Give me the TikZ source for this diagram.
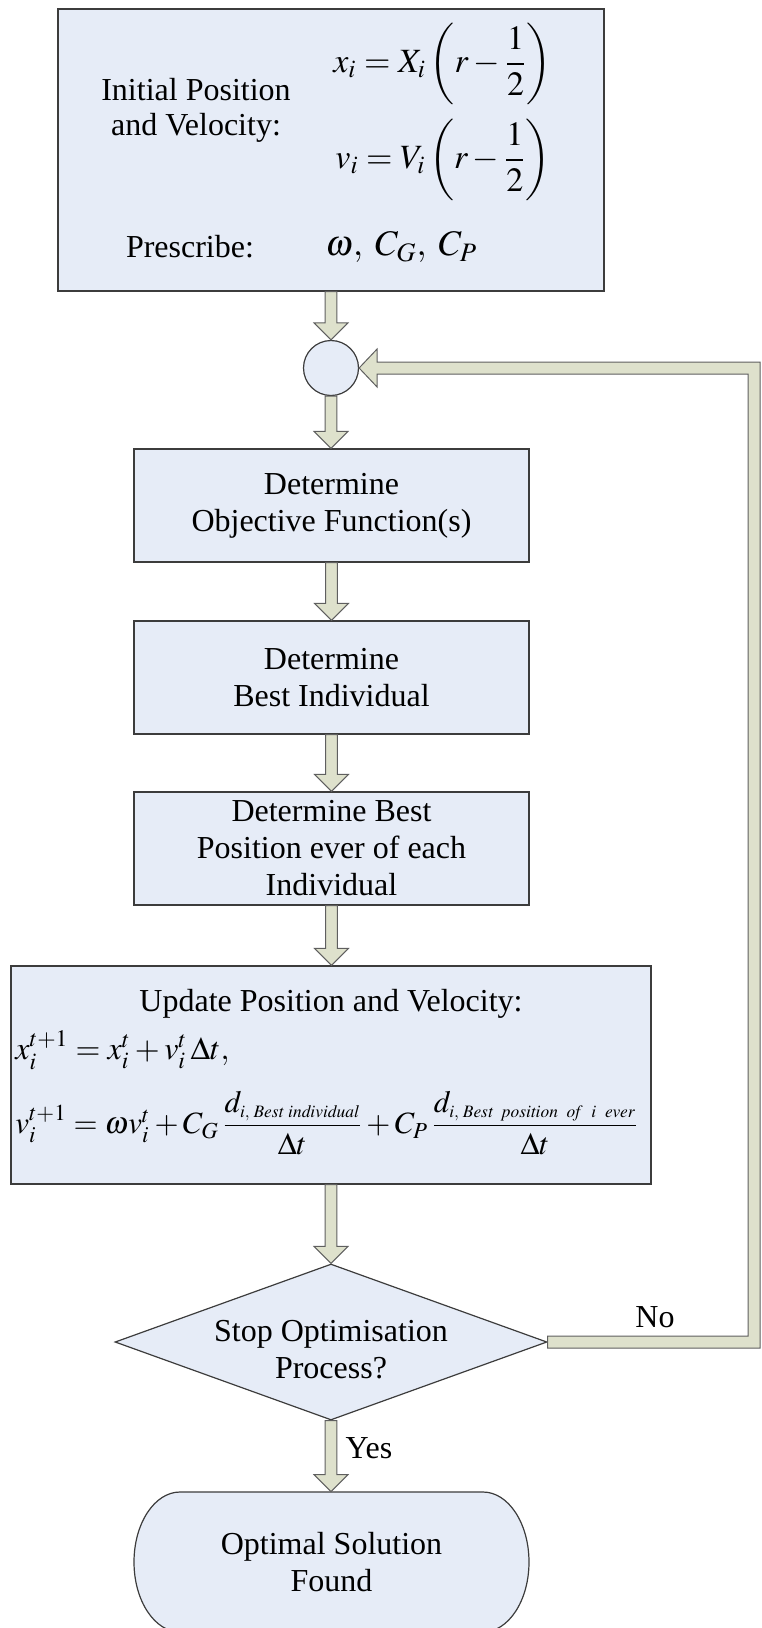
\documentclass[tikz,border=0pt]{standalone}
\usepackage{amsmath}
\usepackage{mathptmx}
\usepackage{graphicx}
\usepackage{fontspec}
\setmainfont{Liberation Serif}
\usetikzlibrary{shapes.geometric,calc}
\definecolor{boxfill}{RGB}{230,236,247}
\definecolor{arrfill}{RGB}{222,225,204}
\definecolor{boxline}{RGB}{60,60,60}
\definecolor{arrline}{RGB}{95,95,95}
\newcommand\subtxt[1]{\mbox{\fontsize{9pt}{10pt}\selectfont$\mathit{#1}$}}
\tikzset{
  base/.style={draw=boxline, fill=boxfill, line width=0.6pt},
  txt/.style={font=\fontsize{16pt}{18.5pt}\selectfont, align=center, inner sep=0pt},
  procbox/.style={base, txt, rectangle, minimum width=197.5pt, minimum height=56.5pt},
  barrow/.style={draw=arrline, fill=arrfill, line width=0.5pt, line join=miter},
}
\newcommand\varr[2]{%
  \draw[barrow] let \p1=(#1), \p2=(#2) in
  (\x1-2.9pt,\y1) -- (\x1+2.9pt,\y1) -- (\x1+2.9pt,\y2+8.5pt) -- (\x1+8.5pt,\y2+8.5pt)
  -- (\x1,\y2) -- (\x1-8.5pt,\y2+8.5pt) -- (\x1-2.9pt,\y2+8.5pt) -- cycle;}
\begin{document}
\begin{tikzpicture}[x=0.5pt,y=-0.5pt]
\useasboundingbox (0,0) rectangle (761,1628);
% top box
\node[base, minimum width=273pt, minimum height=141pt, inner sep=0pt] (init) at (331,150) {};
\node[txt, font=\fontsize{16pt}{17.5pt}\selectfont] (initxt) at (196,110) {Initial Position\\and Velocity:};
\node[txt, anchor=west, font=\fontsize{17pt}{20pt}\selectfont] (eqx) at (333,64) {$x_i = X_i\left(r-\dfrac{1}{2}\right)$};
\node[txt, anchor=west, font=\fontsize{17pt}{20pt}\selectfont] (eqv) at (335,160) {$v_i = V_i\left(r-\dfrac{1}{2}\right)$};
\node[txt] (prestxt) at (190,247) {Prescribe:};
\node[txt, anchor=west, font=\fontsize{18pt}{20pt}\selectfont] (presmath) at (325,247) {$\omega,\; C_G,\; C_P$};
% junction
\node[base, circle, minimum size=27.5pt, inner sep=0pt] (circ) at (331,368) {};
% process boxes
\node[procbox] (obj) at (331.5,505.5) {Determine\\Objective Function(s)};
\node[procbox] (best) at (331.5,677.5) {Determine\\Best Individual};
\node[procbox] (bpos) at (331.5,848.5) {Determine Best\\Position ever of each\\Individual};
% update box
\node[base, minimum width=320pt, minimum height=109pt, inner sep=0pt] (upd) at (331,1075) {};
\node[txt] (updtitle) at (331,1004) {Update Position and Velocity:};
\node[txt, anchor=west] (updx) at (15,1050) {$x_i^{t+1} = x_i^t + v_i^t\,\Delta t,$};
\node[txt, anchor=west] (updv) at (15,1123) {\resizebox{311.5pt}{!}{$v_i^{t+1} = \omega v_i^t + C_G\,\dfrac{d_{\subtxt{i,\,Best\ individual}}}{\Delta t} + C_P\,\dfrac{d_{\subtxt{i,\,Best\ \ position\ \ of\ \ i\ \ ever}}}{\Delta t}$}};
% decision
\node[base, diamond, minimum width=216pt, minimum height=78pt, inner sep=0pt, shape aspect=2.77] (dec) at (331,1342) {};
\node[txt] (dectxt) at (331,1350) {Stop Optimisation\\Process?};
% terminal
\draw[base] (180,1492) -- (483,1492) arc[start angle=90,end angle=-90,x radius=23pt,y radius=35pt]
  -- (180,1632) arc[start angle=270,end angle=90,x radius=23pt,y radius=35pt] -- cycle;
\node[txt, minimum width=197.5pt, minimum height=70pt] (term) at (331.5,1562) {Optimal Solution\\Found};
% connectors
\varr{init.south}{circ.north}
\varr{circ.south}{obj.north}
\varr{obj.south}{best.north}
\varr{best.south}{bpos.north}
\varr{bpos.south}{upd.north}
\varr{upd.south}{dec.north}
\varr{dec.south}{term.north}
\coordinate (loopx) at (754,0);
\draw[barrow] let \p1=(dec.east), \p2=(circ.east), \p3=(loopx) in
  (\x1,\y1-3pt) -- (\x3+3pt,\y1-3pt) -- (\x3+3pt,\y2+3pt) -- (\x2+9pt,\y2+3pt) -- (\x2+9pt,\y2+9.5pt)
  -- (\x2,\y2) -- (\x2+9pt,\y2-9.5pt) -- (\x2+9pt,\y2-3pt) -- (\x3-3pt,\y2-3pt) -- (\x3-3pt,\y1+3pt)
  -- (\x1,\y1+3pt) -- cycle;
\node[txt] (nolbl) at (655,1317) {No};
\node[txt] (yeslbl) at (369,1448) {Yes};
\end{tikzpicture}
\end{document}
